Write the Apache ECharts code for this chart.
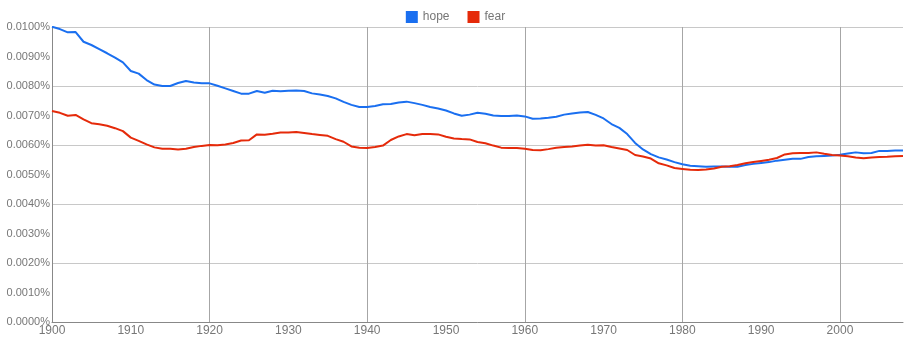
<!DOCTYPE html>
<html>
<head>
<meta charset="utf-8">
<script src="https://cdn.jsdelivr.net/npm/echarts@6/dist/echarts.min.js"></script>
<style>
  html, body { margin: 0; padding: 0; background: #fff; }
  #chart { width: 911px; height: 350px; }
</style>
</head>
<body>
<div id="chart"></div>
<script>
// years 1900..2008
const years = []
for (let y = 1900; y <= 2008; y++) years.push(y)

// vertical grid lines (every 20 years)
const gridYears = [1920, 1940, 1960, 1980, 2000]

// percent values
const hope = [
  0.01001, 0.00993, 0.00982, 0.00983, 0.00950, 0.00939, 0.00925, 0.00911, 0.00896, 0.00880,
  0.00851, 0.00842, 0.00820, 0.00805, 0.00800, 0.00800, 0.00810, 0.00817, 0.00812, 0.00809,
  0.00809, 0.00801, 0.00792, 0.00783, 0.00774, 0.00774, 0.00783, 0.00777, 0.00784, 0.00782,
  0.00784, 0.00785, 0.00783, 0.00775, 0.00771, 0.00766, 0.00758, 0.00746, 0.00736, 0.00729,
  0.00729, 0.00732, 0.00738, 0.00739, 0.00744, 0.00747, 0.00742, 0.00736, 0.00729, 0.00724,
  0.00717, 0.00707, 0.00699, 0.00703, 0.00709, 0.00706, 0.00700, 0.00698, 0.00698, 0.00700,
  0.00697, 0.00689, 0.00690, 0.00692, 0.00696, 0.00703, 0.00707, 0.00710, 0.00712, 0.00702,
  0.00690, 0.00671, 0.00658, 0.00637, 0.00607, 0.00585, 0.00569, 0.00558, 0.00551, 0.00542,
  0.00535, 0.00530, 0.00528, 0.00526, 0.00527, 0.00527, 0.00526, 0.00526, 0.00532, 0.00536,
  0.00539, 0.00542, 0.00547, 0.00550, 0.00553, 0.00553, 0.00559, 0.00562, 0.00563, 0.00564,
  0.00567, 0.00571, 0.00575, 0.00572, 0.00573, 0.00580, 0.00580, 0.00581, 0.00581
]
const fear = [
  0.00715, 0.00709, 0.00699, 0.00702, 0.00687, 0.00674, 0.00670, 0.00665, 0.00657, 0.00647,
  0.00625, 0.00614, 0.00602, 0.00592, 0.00587, 0.00587, 0.00585, 0.00587, 0.00593, 0.00597,
  0.00600, 0.00599, 0.00602, 0.00607, 0.00615, 0.00616, 0.00636, 0.00635, 0.00638, 0.00642,
  0.00642, 0.00644, 0.00641, 0.00637, 0.00634, 0.00631, 0.00620, 0.00611, 0.00595, 0.00591,
  0.00590, 0.00593, 0.00598, 0.00617, 0.00629, 0.00637, 0.00633, 0.00637, 0.00637, 0.00636,
  0.00628, 0.00622, 0.00620, 0.00619, 0.00610, 0.00606, 0.00598, 0.00591, 0.00590, 0.00590,
  0.00587, 0.00583, 0.00582, 0.00586, 0.00591, 0.00593, 0.00595, 0.00598, 0.00601, 0.00598,
  0.00599, 0.00593, 0.00588, 0.00583, 0.00566, 0.00561, 0.00554, 0.00538, 0.00531, 0.00522,
  0.00519, 0.00516, 0.00515, 0.00517, 0.00520, 0.00526, 0.00528, 0.00532, 0.00538, 0.00542,
  0.00546, 0.00550, 0.00556, 0.00568, 0.00572, 0.00573, 0.00573, 0.00575, 0.00570, 0.00566,
  0.00564, 0.00562, 0.00558, 0.00555, 0.00558, 0.00559, 0.00560, 0.00562, 0.00563
]

const blue = '#1a6ff0'
const red = '#e52a0a'

const toPairs = (arr) => arr.map((v, i) => [years[i], v])

const chart = echarts.init(document.getElementById('chart'))
chart.setOption({
  animation: false,
  textStyle: { fontFamily: 'Liberation Sans, Arial, sans-serif' },
  legend: {
    top: 6,
    left: 'center',
    itemWidth: 12,
    itemHeight: 12,
    itemGap: 18,
    icon: 'rect',
    textStyle: { color: '#777', fontSize: 12 },
    data: ['hope', 'fear']
  },
  grid: [{ left: 52, right: 8, top: 27, bottom: 28 }],
  xAxis: {
    type: 'value',
    min: 1900,
    max: 2008,
    interval: 10,
    axisLine: { show: true, lineStyle: { color: '#888', width: 1 } },
    axisTick: { show: false },
    splitLine: { show: false },
    axisLabel: {
      color: '#777',
      fontSize: 12,
      margin: 3,
      showMaxLabel: false,
      formatter: (v) => String(v)
    }
  },
  yAxis: [
    {
      type: 'value',
      min: 0,
      max: 0.01,
      interval: 0.001,
      axisLine: { show: true, lineStyle: { color: '#888', width: 1 } },
      axisTick: { show: false },
      splitLine: { show: false },
      axisLabel: {
        color: '#777',
        fontSize: 11,
        margin: 2,
        formatter: (v) => v.toFixed(4) + '%'
      }
    },
    {
      // horizontal grid lines every 0.002%
      type: 'value',
      min: 0,
      max: 0.01,
      interval: 0.002,
      position: 'left',
      axisLine: { show: false },
      axisTick: { show: false },
      axisLabel: { show: false },
      splitLine: { show: true, lineStyle: { color: '#c8c8c8', width: 1 } }
    }
  ],
  series: [
    {
      name: 'hope',
      type: 'line',
      data: toPairs(hope),
      showSymbol: false,
      symbol: 'none',
      z: 3,
      itemStyle: { color: blue },
      lineStyle: { color: blue, width: 2 },
      markLine: {
        silent: true,
        symbol: 'none',
        label: { show: false },
        lineStyle: { color: '#a6a6a6', width: 1, type: 'solid' },
        z: 1,
        data: gridYears.map((y) => ({ xAxis: y }))
      }
    },
    {
      name: 'fear',
      type: 'line',
      data: toPairs(fear),
      showSymbol: false,
      symbol: 'none',
      z: 3,
      itemStyle: { color: red },
      lineStyle: { color: red, width: 2 }
    }
  ]
})
</script>
</body>
</html>
